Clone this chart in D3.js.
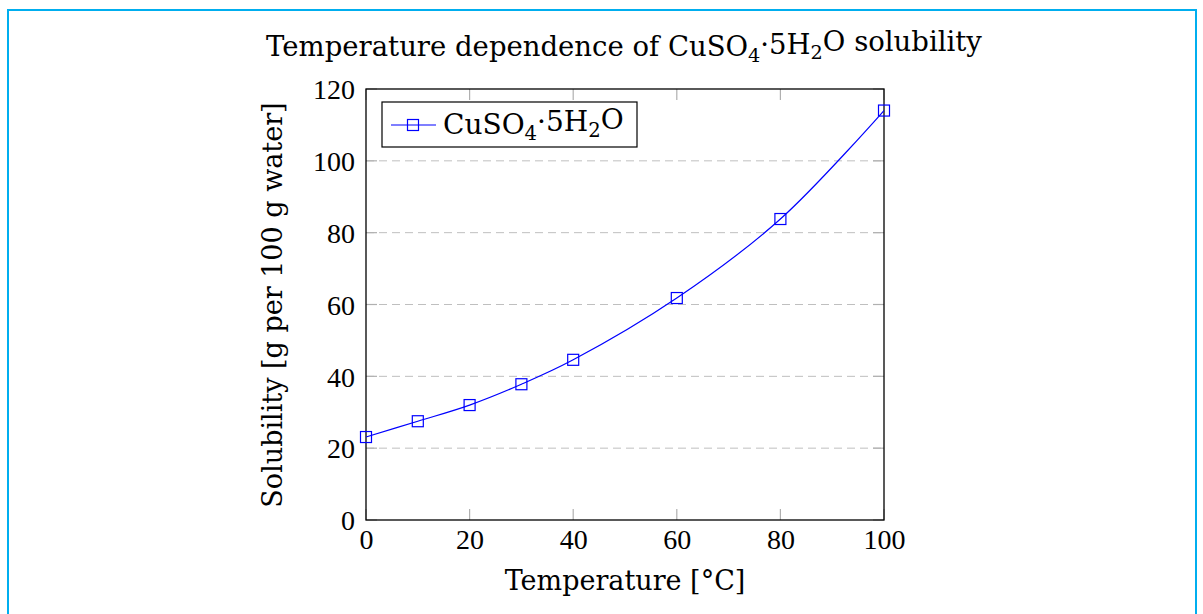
<!DOCTYPE html>
<html>
<head>
<meta charset="utf-8">
<script src="https://cdn.jsdelivr.net/npm/d3@7"></script>
<style>
  body { margin: 0; background: #fff; }
  svg { display: block; }
  text { font-family: "DejaVu Serif", serif; fill: #000; }
</style>
</head>
<body>
<svg width="1203" height="614"></svg>
<script>
const temps = [0, 10, 20, 30, 40, 60, 80, 100];
const solubility = [23.1, 27.5, 32.0, 37.8, 44.6, 61.8, 83.8, 114.0];
const xTicks = [0, 20, 40, 60, 80, 100];
const yTicks = [0, 20, 40, 60, 80, 100, 120];

const svg = d3.select("svg");

// frame around the figure
svg.append("rect")
  .attr("x", 8).attr("y", 10)
  .attr("width", 1188).attr("height", 620)
  .attr("fill", "none")
  .attr("stroke", "#00aeef")
  .attr("stroke-width", 2);

const pLeft = 366, pRight = 884, pTop = 89, pBottom = 520;

const x = d3.scaleLinear().domain([0, 100]).range([pLeft, pRight]);
const y = d3.scaleLinear().domain([0, 120]).range([pBottom, pTop]);

// grid
svg.append("g")
  .selectAll("line")
  .data(yTicks.filter(d => d > 0 && d < 120))
  .enter().append("line")
  .attr("x1", pLeft).attr("x2", pRight)
  .attr("y1", d => y(d)).attr("y2", d => y(d))
  .attr("stroke", "#bfbfbf")
  .attr("stroke-width", 1)
  .attr("stroke-dasharray", "8,5");

// inner ticks (gray)
const tickLen = 11;
const ticks = svg.append("g").attr("stroke", "#b0b0b0").attr("stroke-width", 1.2);
xTicks.forEach(t => {
  ticks.append("line").attr("x1", x(t)).attr("x2", x(t)).attr("y1", pBottom).attr("y2", pBottom - tickLen);
  ticks.append("line").attr("x1", x(t)).attr("x2", x(t)).attr("y1", pTop).attr("y2", pTop + tickLen);
});
yTicks.forEach(t => {
  ticks.append("line").attr("y1", y(t)).attr("y2", y(t)).attr("x1", pLeft).attr("x2", pLeft + tickLen);
  ticks.append("line").attr("y1", y(t)).attr("y2", y(t)).attr("x1", pRight).attr("x2", pRight - tickLen);
});

// axes box
svg.append("rect")
  .attr("x", pLeft).attr("y", pTop)
  .attr("width", pRight - pLeft).attr("height", pBottom - pTop)
  .attr("fill", "none")
  .attr("stroke", "#000")
  .attr("stroke-width", 1.3);

// tick labels via d3 axes, lines hidden
const xAxis = svg.append("g")
  .attr("transform", `translate(0,${pBottom})`)
  .call(d3.axisBottom(x).tickValues(xTicks).tickSize(0).tickPadding(29));
const yAxis = svg.append("g")
  .attr("transform", `translate(${pLeft},0)`)
  .call(d3.axisLeft(y).tickValues(yTicks).tickSize(0).tickPadding(11));
[xAxis, yAxis].forEach(g => {
  g.select(".domain").remove();
  g.selectAll("text")
    .style("font-family", '"Liberation Serif", serif')
    .style("font-size", "28px")
    .attr("fill", "#000");
});
xAxis.selectAll("text").attr("dy", "0");
yAxis.selectAll("text").attr("dy", "0.35em");

// series line
const pts = temps.map((t, i) => [t, solubility[i]]);
svg.append("path")
  .datum(pts)
  .attr("fill", "none")
  .attr("stroke", "#0000ff")
  .attr("stroke-width", 1.2)
  .attr("d", d3.line().x(d => x(d[0])).y(d => y(d[1])).curve(d3.curveCatmullRom));

const ms = 11;
svg.append("g")
  .selectAll("rect")
  .data(pts)
  .enter().append("rect")
  .attr("x", d => x(d[0]) - ms / 2)
  .attr("y", d => y(d[1]) - ms / 2)
  .attr("width", ms).attr("height", ms)
  .attr("fill", "none")
  .attr("stroke", "#0000ff")
  .attr("stroke-width", 1.2);

// legend
const lg = svg.append("g");
lg.append("rect")
  .attr("x", 382).attr("y", 102).attr("width", 255).attr("height", 45)
  .attr("fill", "#fff").attr("stroke", "#000").attr("stroke-width", 1.2);
lg.append("line")
  .attr("x1", 391).attr("x2", 436).attr("y1", 125).attr("y2", 125)
  .attr("stroke", "#0000ff").attr("stroke-width", 1.2);
lg.append("rect")
  .attr("x", 413 - ms / 2).attr("y", 125 - ms / 2).attr("width", ms).attr("height", ms)
  .attr("fill", "none").attr("stroke", "#0000ff").attr("stroke-width", 1.2);

function formula(sel) {
  sel.append("tspan").text("CuSO");
  sel.append("tspan").attr("dy", "0.3em").style("font-size", "0.7em").text("4");
  sel.append("tspan").attr("dy", "-0.3em").text("·5H");
  sel.append("tspan").attr("dy", "0.3em").style("font-size", "0.7em").text("2");
  sel.append("tspan").attr("dy", "-0.3em").text("O");
}

const lt = lg.append("text")
  .attr("x", 443).attr("y", 134)
  .style("font-size", "28px");
formula(lt);

// title
const title = svg.append("text")
  .attr("x", 624).attr("y", 56)
  .attr("text-anchor", "middle")
  .style("font-size", "27.5px");
title.append("tspan").text("Temperature dependence of ");
formula(title);
title.append("tspan").text(" solubility");

// axis labels
svg.append("text")
  .attr("x", 625).attr("y", 590)
  .attr("text-anchor", "middle")
  .style("font-size", "27px")
  .text("Temperature [°C]");

svg.append("text")
  .attr("transform", "rotate(-90)")
  .attr("x", -305).attr("y", 282)
  .attr("text-anchor", "middle")
  .style("font-size", "27px")
  .text("Solubility [g per 100 g water]");
</script>
</body>
</html>
